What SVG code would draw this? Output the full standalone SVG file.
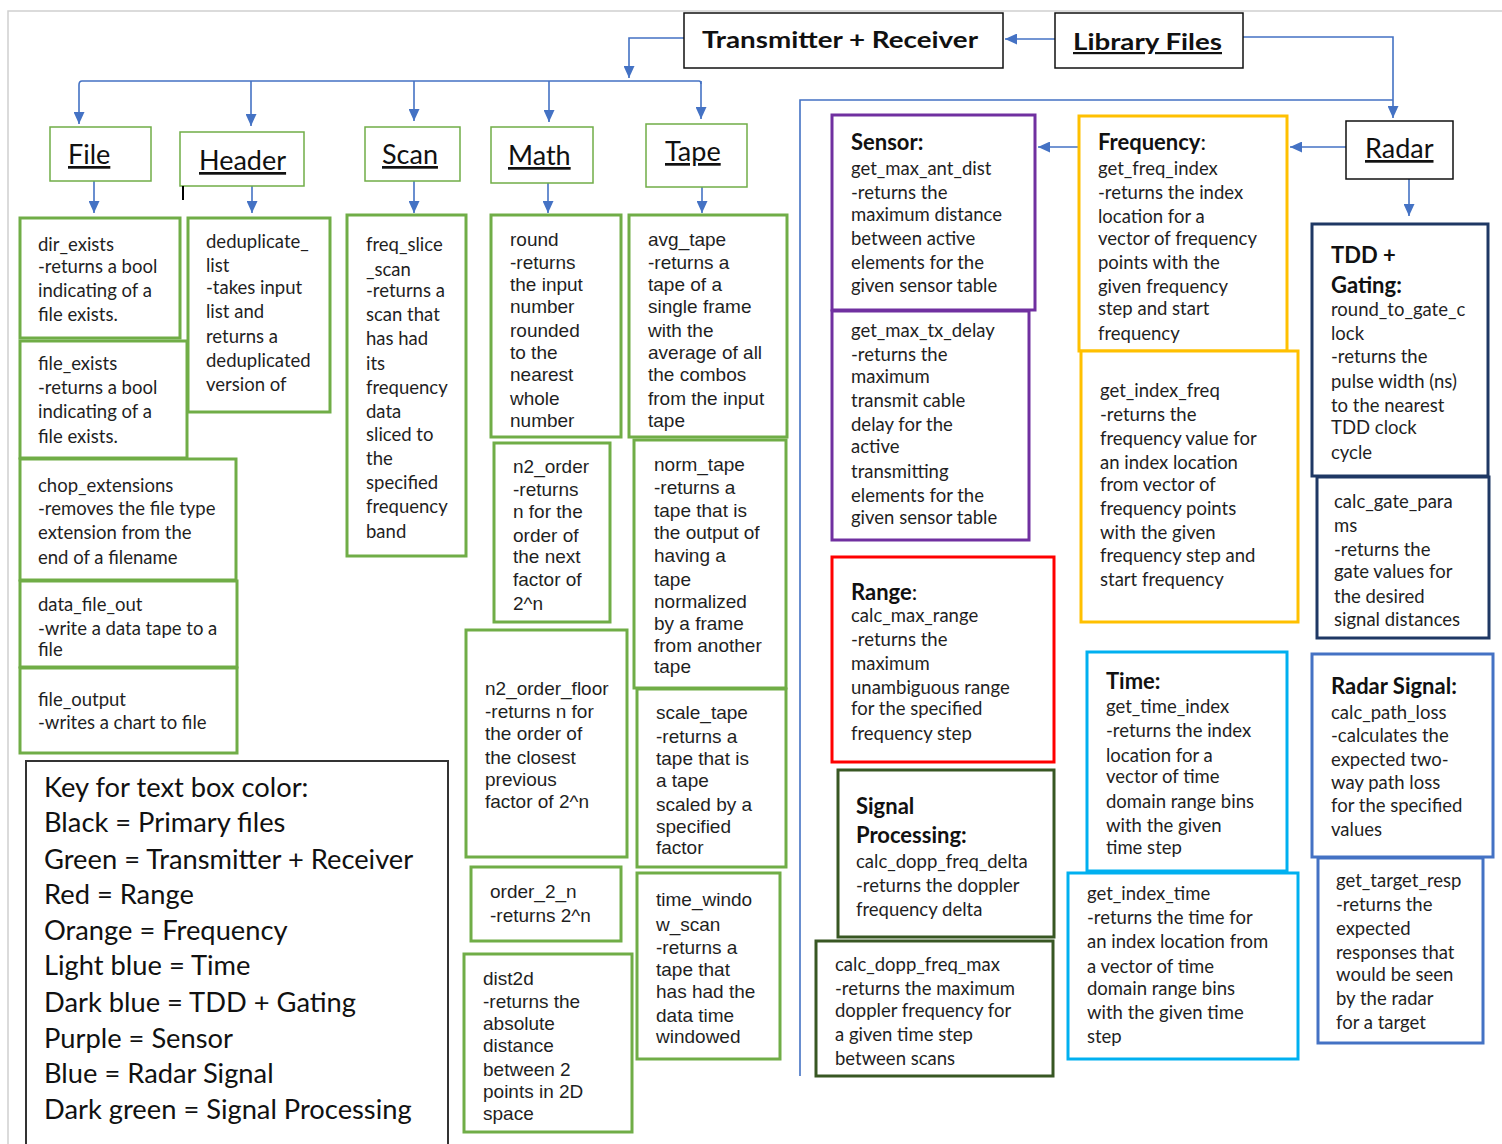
<svg xmlns="http://www.w3.org/2000/svg" width="1502" height="1144" viewBox="0 0 1502 1144">
<defs>
<marker id="ah" viewBox="0 0 12 11" refX="12" refY="5.5" markerWidth="12" markerHeight="11" markerUnits="userSpaceOnUse" orient="auto">
<path d="M0,0 L12,5.5 L0,11 z" fill="#4472C4"/>
</marker>
<style>
.c{font-family:Lato,"Noto Sans","Liberation Sans",sans-serif;font-size:18.5px;fill:#1f1f1f}
.a{font-family:"Liberation Sans",Arial,sans-serif;font-size:19px;fill:#1f1f1f}
.h{font-family:Lato,"Noto Sans","Liberation Sans",sans-serif;font-size:22px;font-weight:bold;fill:#111}
.t{font-family:Lato,"Noto Sans","Liberation Sans",sans-serif;font-size:27px;fill:#111;text-decoration:underline}
.k{font-family:Lato,"Noto Sans","Liberation Sans",sans-serif;font-size:27.3px;fill:#111}
.n{font-weight:normal}
.pb{fill:#fff;stroke:#111;stroke-width:1.5}
.tg{fill:#fff;stroke:#70AD47;stroke-width:1.5}
.g{fill:#fff;stroke:#70AD47;stroke-width:3}
.pu{fill:#fff;stroke:#7030A0;stroke-width:3}
.or{fill:#fff;stroke:#FFC000;stroke-width:3}
.rd{fill:#fff;stroke:#FF0000;stroke-width:3}
.dg{fill:#fff;stroke:#385723;stroke-width:3}
.lb{fill:#fff;stroke:#00B0F0;stroke-width:3}
.db{fill:#fff;stroke:#1F3864;stroke-width:3}
.bl{fill:#fff;stroke:#4472C4;stroke-width:3}
.ln{fill:none;stroke:#4472C4;stroke-width:1.6}
</style>
</defs>
<rect x="0" y="0" width="1502" height="1144" fill="#fff"/>
<path d="M8,1144 V11 H1502" fill="none" stroke="#d0d0d0" stroke-width="1.5"/>

<g id="connectors">
<path class="ln" d="M1055,39 H1005" marker-end="url(#ah)"/>
<path class="ln" d="M1243,37 H1393 V118" marker-end="url(#ah)"/>
<path class="ln" d="M800,1076 V100 H1393"/>
<path class="ln" d="M684,38 H629 V78" marker-end="url(#ah)"/>
<path class="ln" d="M82,81 H699 Q701,81 701,84"/>
<path class="ln" d="M82,81 Q79,81 79,85 V124" marker-end="url(#ah)"/>
<path class="ln" d="M251,81 V126" marker-end="url(#ah)"/>
<path class="ln" d="M414,81 V121" marker-end="url(#ah)"/>
<path class="ln" d="M549,81 V122" marker-end="url(#ah)"/>
<path class="ln" d="M701,81 V119" marker-end="url(#ah)"/>
<path class="ln" d="M94,181 V213" marker-end="url(#ah)"/>
<path class="ln" d="M252,186 V213" marker-end="url(#ah)"/>
<path class="ln" d="M414,181 V213" marker-end="url(#ah)"/>
<path class="ln" d="M548,183 V213" marker-end="url(#ah)"/>
<path class="ln" d="M702,187 V213" marker-end="url(#ah)"/>
<path class="ln" d="M1346,147 H1290" marker-end="url(#ah)"/>
<path class="ln" d="M1079,147 H1038" marker-end="url(#ah)"/>
<path class="ln" d="M1409,179 V216" marker-end="url(#ah)"/>
</g>

<g id="transmitter">
<rect class="pb" x="684" y="13" width="319" height="55"/>
<text class="h" x="702" y="48" font-size="26" textLength="276" lengthAdjust="spacingAndGlyphs">Transmitter + Receiver</text>
</g>
<g id="library">
<rect class="pb" x="1055" y="13" width="188" height="55"/>
<text class="h" x="1073" y="50" font-size="27" text-decoration="underline" textLength="149" lengthAdjust="spacingAndGlyphs">Library Files</text>
</g>
<g id="radar">
<rect class="pb" x="1346" y="121" width="107" height="58"/>
<text class="t" x="1365" y="158">Radar</text>
</g>

<g id="file">
<rect class="tg" x="50" y="127" width="101" height="54"/>
<text class="t" x="68" y="164">File</text>
</g>
<g id="header">
<rect class="tg" x="180" y="132" width="124" height="54"/>
<text class="t" x="199" y="170">Header</text>
<line x1="183" y1="186" x2="183" y2="200" stroke="#000" stroke-width="2"/>
</g>
<g id="scan">
<rect class="tg" x="365" y="127" width="95" height="54"/>
<text class="t" x="382" y="164">Scan</text>
</g>
<g id="math">
<rect class="tg" x="491" y="127" width="102" height="56"/>
<text class="t" x="508" y="165">Math</text>
</g>
<g id="tape">
<rect class="tg" x="646" y="124" width="101" height="63"/>
<text class="t" x="665" y="161">Tape</text>
</g>

<g id="dir_exists">
<rect class="g" x="20" y="218" width="160" height="120"/>
<text class="c"><tspan x="38" y="251">dir_exists</tspan><tspan x="38" y="273">-returns a bool</tspan><tspan x="38" y="297">indicating of a</tspan><tspan x="38" y="321">file exists.</tspan></text>
</g>
<g id="file_exists">
<rect class="g" x="20" y="341" width="167" height="117"/>
<text class="c"><tspan x="38" y="370">file_exists</tspan><tspan x="38" y="394">-returns  a bool</tspan><tspan x="38" y="418">indicating of a</tspan><tspan x="38" y="443">file exists.</tspan></text>
</g>
<g id="chop_extensions">
<rect class="g" x="20" y="459" width="216" height="121"/>
<text class="c"><tspan x="38" y="492">chop_extensions</tspan><tspan x="38" y="515">-removes the file type</tspan><tspan x="38" y="539">extension from the</tspan><tspan x="38" y="564">end of a filename</tspan></text>
</g>
<g id="data_file_out">
<rect class="g" x="20" y="581" width="217" height="86"/>
<text class="c"><tspan x="38" y="611">data_file_out</tspan><tspan x="38" y="635">-write a data tape to a</tspan><tspan x="38" y="656">file</tspan></text>
</g>
<g id="file_output">
<rect class="g" x="20" y="668" width="217" height="85"/>
<text class="c"><tspan x="38" y="706">file_output</tspan><tspan x="38" y="729">-writes a chart to file</tspan></text>
</g>

<g id="deduplicate_list">
<rect class="g" x="188" y="218" width="142" height="194"/>
<text class="c"><tspan x="206" y="248">deduplicate_</tspan><tspan x="206" y="272">list</tspan><tspan x="206" y="294">-takes input</tspan><tspan x="206" y="318">list and</tspan><tspan x="206" y="343">returns a</tspan><tspan x="206" y="367">deduplicated</tspan><tspan x="206" y="391">version of</tspan></text>
</g>

<g id="freq_slice_scan">
<rect class="g" x="347" y="215" width="119" height="341"/>
<text class="c"><tspan x="366" y="251">freq_slice</tspan><tspan x="366" y="276">_scan</tspan><tspan x="366" y="297">-returns a</tspan><tspan x="366" y="321">scan that</tspan><tspan x="366" y="345">has had</tspan><tspan x="366" y="370">its</tspan><tspan x="366" y="394">frequency</tspan><tspan x="366" y="418">data</tspan><tspan x="366" y="441">sliced to</tspan><tspan x="366" y="465">the</tspan><tspan x="366" y="489">specified</tspan><tspan x="366" y="513">frequency</tspan><tspan x="366" y="538">band</tspan></text>
</g>

<g id="round">
<rect class="g" x="491" y="215" width="130" height="222"/>
<text class="a"><tspan x="510" y="246">round</tspan><tspan x="510" y="269">-returns</tspan><tspan x="510" y="291">the input</tspan><tspan x="510" y="313">number</tspan><tspan x="510" y="337">rounded</tspan><tspan x="510" y="359">to the</tspan><tspan x="510" y="381">nearest</tspan><tspan x="510" y="405">whole</tspan><tspan x="510" y="427">number</tspan></text>
</g>
<g id="n2_order">
<rect class="g" x="494" y="443" width="116" height="179"/>
<text class="a"><tspan x="513" y="473">n2_order</tspan><tspan x="513" y="496">-returns</tspan><tspan x="513" y="518">n for the</tspan><tspan x="513" y="542">order of</tspan><tspan x="513" y="563">the next</tspan><tspan x="513" y="586">factor of</tspan><tspan x="513" y="610">2^n</tspan></text>
</g>
<g id="n2_order_floor">
<rect class="g" x="466" y="630" width="161" height="227"/>
<text class="a"><tspan x="485" y="695">n2_order_floor</tspan><tspan x="485" y="718">-returns n for</tspan><tspan x="485" y="740">the order of</tspan><tspan x="485" y="764">the closest</tspan><tspan x="485" y="786">previous</tspan><tspan x="485" y="808">factor of 2^n</tspan></text>
</g>
<g id="order_2_n">
<rect class="g" x="471" y="867" width="150" height="74"/>
<text class="a"><tspan x="490" y="898">order_2_n</tspan><tspan x="490" y="922">-returns 2^n</tspan></text>
</g>
<g id="dist2d">
<rect class="g" x="464" y="954" width="168" height="178"/>
<text class="a"><tspan x="483" y="985">dist2d</tspan><tspan x="483" y="1008">-returns the</tspan><tspan x="483" y="1030">absolute</tspan><tspan x="483" y="1052">distance</tspan><tspan x="483" y="1076">between 2</tspan><tspan x="483" y="1098">points in 2D</tspan><tspan x="483" y="1120">space</tspan></text>
</g>

<g id="avg_tape">
<rect class="g" x="629" y="215" width="158" height="222"/>
<text class="a"><tspan x="648" y="246">avg_tape</tspan><tspan x="648" y="269">-returns a</tspan><tspan x="648" y="291">tape of a</tspan><tspan x="648" y="313">single frame</tspan><tspan x="648" y="337">with the</tspan><tspan x="648" y="359">average of all</tspan><tspan x="648" y="381">the combos</tspan><tspan x="648" y="405">from the input</tspan><tspan x="648" y="427">tape</tspan></text>
</g>
<g id="norm_tape">
<rect class="g" x="634" y="440" width="152" height="248"/>
<text class="a"><tspan x="654" y="471">norm_tape</tspan><tspan x="654" y="494">-returns a</tspan><tspan x="654" y="517">tape that is</tspan><tspan x="654" y="539">the output of</tspan><tspan x="654" y="562">having a</tspan><tspan x="654" y="586">tape</tspan><tspan x="654" y="608">normalized</tspan><tspan x="654" y="630">by a frame</tspan><tspan x="654" y="652">from another</tspan><tspan x="654" y="673">tape</tspan></text>
</g>
<g id="scale_tape">
<rect class="g" x="637" y="689" width="149" height="178"/>
<text class="a"><tspan x="656" y="719">scale_tape</tspan><tspan x="656" y="743">-returns a</tspan><tspan x="656" y="765">tape that is</tspan><tspan x="656" y="787">a tape</tspan><tspan x="656" y="811">scaled by a</tspan><tspan x="656" y="833">specified</tspan><tspan x="656" y="854">factor</tspan></text>
</g>
<g id="time_window_scan">
<rect class="g" x="637" y="873" width="143" height="186"/>
<text class="a"><tspan x="656" y="906">time_windo</tspan><tspan x="656" y="931">w_scan</tspan><tspan x="656" y="954">-returns a</tspan><tspan x="656" y="976">tape that</tspan><tspan x="656" y="998">has had the</tspan><tspan x="656" y="1022">data time</tspan><tspan x="656" y="1043">windowed</tspan></text>
</g>

<g id="key">
<rect x="26" y="761" width="422" height="400" fill="#fff" stroke="#333" stroke-width="2"/>
<text class="k"><tspan x="44" y="797">Key for text box color:</tspan><tspan x="44" y="832">Black = Primary files</tspan><tspan x="44" y="869">Green = Transmitter + Receiver</tspan><tspan x="44" y="904">Red = Range</tspan><tspan x="44" y="940">Orange = Frequency</tspan><tspan x="44" y="975">Light blue = Time</tspan><tspan x="44" y="1012">Dark blue = TDD + Gating</tspan><tspan x="44" y="1048">Purple = Sensor</tspan><tspan x="44" y="1083">Blue = Radar Signal</tspan><tspan x="44" y="1119">Dark green = Signal Processing</tspan></text>
</g>

<g id="sensor">
<rect class="pu" x="832" y="115" width="203" height="195"/>
<text class="h" x="851" y="150">Sensor:</text>
<text class="c"><tspan x="851" y="175">get_max_ant_dist</tspan><tspan x="851" y="199">-returns the</tspan><tspan x="851" y="221">maximum distance</tspan><tspan x="851" y="245">between active</tspan><tspan x="851" y="269">elements for the</tspan><tspan x="851" y="292">given sensor table</tspan></text>
</g>
<g id="get_max_tx_delay">
<rect class="pu" x="832" y="311" width="197" height="229"/>
<text class="c"><tspan x="851" y="337">get_max_tx_delay</tspan><tspan x="851" y="361">-returns the</tspan><tspan x="851" y="383">maximum</tspan><tspan x="851" y="407">transmit cable</tspan><tspan x="851" y="431">delay for the</tspan><tspan x="851" y="453">active</tspan><tspan x="851" y="478">transmitting</tspan><tspan x="851" y="502">elements for the</tspan><tspan x="851" y="524">given sensor table</tspan></text>
</g>
<g id="range">
<rect class="rd" x="832" y="557" width="222" height="205"/>
<text class="h" x="851" y="600">Range<tspan class="n">:</tspan></text>
<text class="c"><tspan x="851" y="622">calc_max_range</tspan><tspan x="851" y="646">-returns the</tspan><tspan x="851" y="670">maximum</tspan><tspan x="851" y="694">unambiguous range</tspan><tspan x="851" y="715">for the specified</tspan><tspan x="851" y="740">frequency step</tspan></text>
</g>
<g id="signal_processing">
<rect class="dg" x="838" y="770" width="216" height="167"/>
<text class="h"><tspan x="856" y="814">Signal</tspan><tspan x="856" y="843">Processing:</tspan></text>
<text class="c"><tspan x="856" y="868">calc_dopp_freq_delta</tspan><tspan x="856" y="892">-returns the doppler</tspan><tspan x="856" y="916">frequency delta</tspan></text>
</g>
<g id="calc_dopp_freq_max">
<rect class="dg" x="816" y="941" width="237" height="135"/>
<text class="c"><tspan x="835" y="971">calc_dopp_freq_max</tspan><tspan x="835" y="995">-returns the maximum</tspan><tspan x="835" y="1017">doppler frequency for</tspan><tspan x="835" y="1041">a given time step</tspan><tspan x="835" y="1065">between scans</tspan></text>
</g>

<g id="frequency">
<rect class="or" x="1079" y="116" width="208" height="235"/>
<text class="h" x="1098" y="150">Frequency<tspan class="n">:</tspan></text>
<text class="c"><tspan x="1098" y="175">get_freq_index</tspan><tspan x="1098" y="199">-returns the index</tspan><tspan x="1098" y="223">location for a</tspan><tspan x="1098" y="245">vector of frequency</tspan><tspan x="1098" y="269">points with the</tspan><tspan x="1098" y="293">given frequency</tspan><tspan x="1098" y="315">step and start</tspan><tspan x="1098" y="340">frequency</tspan></text>
</g>
<g id="get_index_freq">
<rect class="or" x="1081" y="351" width="217" height="271"/>
<text class="c"><tspan x="1100" y="397">get_index_freq</tspan><tspan x="1100" y="421">-returns the</tspan><tspan x="1100" y="445">frequency value for</tspan><tspan x="1100" y="469">an index location</tspan><tspan x="1100" y="491">from vector of</tspan><tspan x="1100" y="515">frequency points</tspan><tspan x="1100" y="539">with the given</tspan><tspan x="1100" y="562">frequency step and</tspan><tspan x="1100" y="586">start frequency</tspan></text>
</g>
<g id="time">
<rect class="lb" x="1087" y="652" width="200" height="219"/>
<text class="h" x="1106" y="689">Time:</text>
<text class="c"><tspan x="1106" y="713">get_time_index</tspan><tspan x="1106" y="737">-returns the index</tspan><tspan x="1106" y="762">location for a</tspan><tspan x="1106" y="783">vector of time</tspan><tspan x="1106" y="808">domain range bins</tspan><tspan x="1106" y="832">with the given</tspan><tspan x="1106" y="854">time step</tspan></text>
</g>
<g id="get_index_time">
<rect class="lb" x="1068" y="873" width="230" height="186"/>
<text class="c"><tspan x="1087" y="900">get_index_time</tspan><tspan x="1087" y="924">-returns the time for</tspan><tspan x="1087" y="948">an index location from</tspan><tspan x="1087" y="973">a vector of time</tspan><tspan x="1087" y="995">domain range bins</tspan><tspan x="1087" y="1019">with the given time</tspan><tspan x="1087" y="1043">step</tspan></text>
</g>

<g id="tdd_gating">
<rect class="db" x="1312" y="224" width="176" height="252"/>
<text class="h"><tspan x="1331" y="263">TDD +</tspan><tspan x="1331" y="293">Gating:</tspan></text>
<text class="c"><tspan x="1331" y="316">round_to_gate_c</tspan><tspan x="1331" y="340">lock</tspan><tspan x="1331" y="363">-returns the</tspan><tspan x="1331" y="388">pulse width (ns)</tspan><tspan x="1331" y="412">to the nearest</tspan><tspan x="1331" y="434">TDD clock</tspan><tspan x="1331" y="459">cycle</tspan></text>
</g>
<g id="calc_gate_params">
<rect class="db" x="1317" y="477" width="172" height="161"/>
<text class="c"><tspan x="1334" y="508">calc_gate_para</tspan><tspan x="1334" y="532">ms</tspan><tspan x="1334" y="556">-returns the</tspan><tspan x="1334" y="578">gate values for</tspan><tspan x="1334" y="603">the desired</tspan><tspan x="1334" y="626">signal distances</tspan></text>
</g>
<g id="radar_signal">
<rect class="bl" x="1312" y="654" width="181" height="203"/>
<text class="h" x="1331" y="694">Radar Signal:</text>
<text class="c"><tspan x="1331" y="719">calc_path_loss</tspan><tspan x="1331" y="742">-calculates the</tspan><tspan x="1331" y="766">expected two-</tspan><tspan x="1331" y="789">way path loss</tspan><tspan x="1331" y="812">for the specified</tspan><tspan x="1331" y="836">values</tspan></text>
</g>
<g id="get_target_resp">
<rect class="bl" x="1318" y="858" width="165" height="185"/>
<text class="c"><tspan x="1336" y="887">get_target_resp</tspan><tspan x="1336" y="911">-returns the</tspan><tspan x="1336" y="935">expected</tspan><tspan x="1336" y="959">responses that</tspan><tspan x="1336" y="981">would be seen</tspan><tspan x="1336" y="1005">by the radar</tspan><tspan x="1336" y="1029">for a target</tspan></text>
</g>
</svg>
